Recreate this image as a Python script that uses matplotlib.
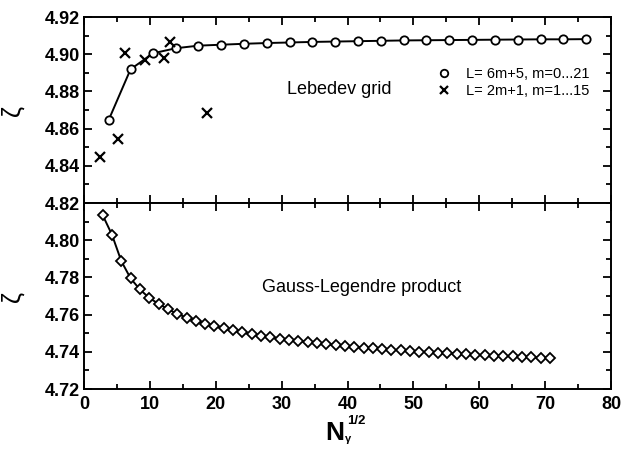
import matplotlib
matplotlib.use("Agg")
import matplotlib.pyplot as plt
from matplotlib.ticker import MultipleLocator, FixedLocator

plt.rcParams['font.family'] = ['Liberation Sans', 'DejaVu Sans']

# Lebedev grid, L = 6m+5, m = 0..21
leb_x = [3.74, 7.07, 10.49, 13.93, 17.38, 20.83, 24.29, 27.75, 31.21, 34.67, 38.13,
         41.59, 45.06, 48.52, 51.98, 55.44, 58.91, 62.37, 65.83, 69.30, 72.76, 76.22]
leb_y = [4.8646, 4.8919, 4.9005, 4.9032, 4.9046, 4.9051, 4.9056, 4.9060, 4.9063, 4.9066, 4.9068,
         4.9070, 4.9072, 4.9074, 4.9075, 4.9076, 4.9077, 4.9078, 4.9079, 4.9080, 4.9080, 4.9081]

# Lebedev grid, L = 2m+1, m = 1..15 (points not hidden under the circles)
odd_x = [2.45, 5.10, 6.16, 9.27, 12.08, 13.04, 18.71]
odd_y = [4.8450, 4.8545, 4.9005, 4.8967, 4.8977, 4.9068, 4.8685]

# Gauss-Legendre product grid
gl_x = [2.83, 4.24, 5.66, 7.07, 8.49, 9.90, 11.31, 12.73, 14.14, 15.56,
        16.97, 18.38, 19.80, 21.21, 22.63, 24.04, 25.46, 26.87, 28.28, 29.70,
        31.11, 32.53, 33.94, 35.36, 36.77, 38.18, 39.60, 41.01, 42.43, 43.84,
        45.25, 46.67, 48.08, 49.50, 50.91, 52.33, 53.74, 55.15, 56.57, 57.98,
        59.40, 60.81, 62.23, 63.64, 65.05, 66.47, 67.88, 69.30, 70.71]
gl_y = [4.8135, 4.8030, 4.7888, 4.7795, 4.7735, 4.7690, 4.7658, 4.7630, 4.7604, 4.7584,
        4.7567, 4.7552, 4.7538, 4.7526, 4.7515, 4.7504, 4.7495, 4.7487, 4.7479, 4.7471,
        4.7465, 4.7458, 4.7452, 4.7447, 4.7441, 4.7436, 4.7432, 4.7427, 4.7423, 4.7419,
        4.7415, 4.7411, 4.7408, 4.7405, 4.7401, 4.7398, 4.7395, 4.7393, 4.7390, 4.7387,
        4.7384, 4.7382, 4.7380, 4.7378, 4.7375, 4.7373, 4.7371, 4.7369, 4.7367]

W, H = 623, 450
fig = plt.figure(figsize=(W / 100, H / 100), dpi=100)
left, right = 84 / W, 611 / W
ax1 = fig.add_axes([left, 1 - 203 / H, right - left, 186 / H])
ax2 = fig.add_axes([left, 1 - 389 / H, right - left, 186 / H])


def style(ax):
    for s in ax.spines.values():
        s.set_linewidth(1.4)
    ax.set_xlim(0, 80)
    ax.xaxis.set_major_locator(MultipleLocator(10))
    ax.xaxis.set_minor_locator(MultipleLocator(5))
    ax.yaxis.set_major_locator(MultipleLocator(0.02))
    ax.yaxis.set_minor_locator(MultipleLocator(0.01))
    ax.tick_params(which='both', direction='in', top=True, right=True, width=1.3)
    ax.tick_params(which='major', length=6)
    ax.tick_params(which='minor', length=3.5)
    ax.tick_params(axis='y', pad=3, labelsize=13)
    ax.tick_params(axis='x', pad=5, labelsize=13)
    ax.set_ylabel('ζ', fontsize=18, rotation=90)
    ax.yaxis.set_label_coords(-0.112, 0.5)


# top panel
ax1.plot(leb_x, leb_y, '-', color='black', lw=1.4)
ax1.plot(leb_x, leb_y, 'o', mfc='white', mec='black', ms=6, mew=1.3,
         label='L= 6m+5, m=0...21')
ax1.plot(odd_x, odd_y, 'x', color='black', ms=6.5, mew=1.6,
         label='L= 2m+1, m=1...15')
ax1.set_ylim(4.82, 4.92)
style(ax1)
ax1.set_yticks([4.82, 4.84, 4.86, 4.88, 4.90, 4.92])
ax1.set_yticklabels(['4.82', '4.84', '4.86', '4.88', '4.90', '4.92'], fontweight='bold')
ax1.tick_params(axis='x', labelbottom=False)
ax1.text(30.8, 4.8808, 'Lebedev grid', fontsize=13, va='center', ha='left')
ax1.legend(loc='upper left', bbox_to_anchor=(0.655, 0.77), frameon=False,
           fontsize=10.5, handlelength=1.0, handletextpad=1.0,
           labelspacing=0.2, borderpad=0, markerscale=0.9)

# bottom panel
ax2.plot(gl_x, gl_y, '-', color='black', lw=1.4)
ax2.plot(gl_x, gl_y, 'D', mfc='white', mec='black', ms=5.5, mew=1.3)
ax2.set_ylim(4.72, 4.82)
style(ax2)
ax2.yaxis.set_major_locator(FixedLocator([4.72, 4.74, 4.76, 4.78, 4.80]))
ax2.set_yticklabels(['4.72', '4.74', '4.76', '4.78', '4.80'], fontweight='bold')
ax2.set_xticks([0, 10, 20, 30, 40, 50, 60, 70, 80])
ax2.set_xticklabels([str(v) for v in range(0, 90, 10)], fontweight='bold')
ax2.text(27.0, 4.7748, 'Gauss-Legendre product', fontsize=13, va='center', ha='left')

# x label N_gamma^(1/2)
fig.text(334.5 / W, 1 - 440 / H, 'N', fontsize=19, fontweight='bold',
         ha='center', va='baseline')
fig.text(345 / W, 1 - 434 / H, 'γ', fontsize=8, fontweight='bold',
         ha='left', va='top')
fig.text(347 / W, 1 - 424 / H, '1/2', fontsize=9.5, fontweight='bold',
         ha='left', va='baseline')

fig.savefig('out.png', dpi=100)
